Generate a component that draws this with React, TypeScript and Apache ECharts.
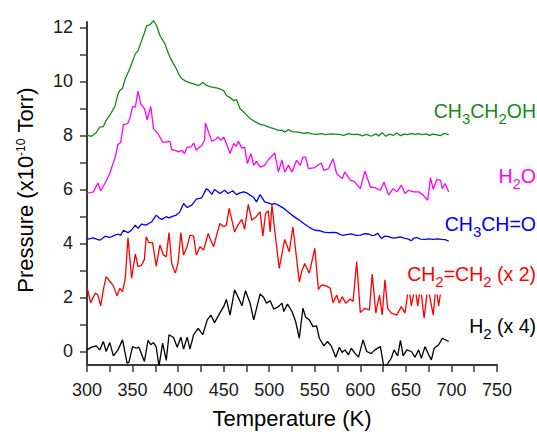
import React, { useEffect, useRef } from "react";
import * as echarts from "echarts";

// Temperature (K) vs pressure (x1e-10 Torr)
const ethanol: [number, number][] = [
  [300, 8.0], [305, 7.97], [310, 8.1], [314, 8.31], [318, 8.33], [321, 8.56], [326, 8.8], [331, 9.11],
  [334, 9.55], [336, 9.66], [339, 9.75], [342, 10.1], [347, 10.47], [350, 10.75], [353, 11.02], [356, 11.14],
  [360, 11.51], [363, 11.8], [365.5, 12.06], [369, 12.1], [373, 12.25], [376.5, 12.06], [380, 11.7],
  [385.6, 11.39], [388, 11.15], [391, 10.9], [395, 10.65], [398, 10.47], [401, 10.25], [404, 10.1],
  [409, 10.0], [413, 9.95], [417, 9.91], [422, 9.85], [425, 9.9], [427, 9.97], [431, 9.85], [436, 9.8],
  [442, 9.76], [446, 9.72], [450, 9.66], [453, 9.48], [457, 9.4], [461, 9.29], [464, 9.33], [468, 8.99],
  [474, 8.8], [479, 8.62], [485, 8.5], [490, 8.41], [495, 8.37], [501, 8.29], [505, 8.25], [510, 8.19],
  [514, 8.2], [517, 8.12], [521, 8.22], [525, 8.14], [532, 8.12], [538, 8.08], [542, 8.1], [547, 8.06],
  [552, 8.04], [557, 8.07], [562, 8.03], [567, 8.06], [572, 8.05], [577, 8.04], [582, 8.0], [587, 8.07],
  [592, 8.03], [597, 8.05], [602, 7.98], [607, 8.04], [612, 7.97], [617, 8.06], [620, 7.98], [624, 8.1],
  [628, 7.97], [632, 8.05], [636, 8.0], [640, 8.09], [644, 7.99], [648, 8.05], [652, 8.03], [656, 8.08],
  [660, 8.04], [664, 8.07], [668, 8.03], [672, 8.06], [676, 8.0], [680, 8.05], [684, 8.02], [688, 7.99],
  [692, 8.08], [697, 8.03],
];

const water: [number, number][] = [
  [300, 5.87], [304, 5.88], [307, 5.91], [312, 6.24], [315, 5.95], [320, 6.25], [325, 6.59], [328, 6.9],
  [331, 7.2], [334, 7.67], [337, 7.74], [340, 8.41], [343, 8.42], [345, 8.46], [347, 8.62], [350, 9.07],
  [353, 9.05], [356, 9.64], [359, 9.17], [363, 8.99], [366, 8.58], [370, 9.07], [373, 8.25], [378, 8.06],
  [383, 7.75], [387, 7.75], [391, 7.79], [393, 7.47], [397, 7.45], [400, 7.39], [404, 7.45], [407, 7.33],
  [410, 7.57], [414, 7.57], [417, 7.72], [420, 7.45], [423, 7.55], [426, 7.63], [429, 7.82], [430, 8.46],
  [434, 8.06], [437, 7.79], [441, 7.85], [444, 7.94], [447, 7.82], [450, 7.94], [453, 7.7], [457, 7.33],
  [461, 7.7], [464, 7.6], [466, 7.79], [470, 7.53], [473, 7.57], [476, 6.96], [480, 7.33], [483, 6.89],
  [486, 7.04], [490, 6.83], [495, 6.89], [499, 7.1], [502, 7.2], [506, 7.35], [510, 6.65], [514, 7.08],
  [517, 6.65], [521, 6.89], [525, 6.65], [530, 7.08], [534, 6.89], [537, 7.2], [540, 7.2], [543, 6.77],
  [550, 6.81], [557, 6.98], [560, 6.71], [565, 6.77], [570, 7.14], [574, 6.59], [580, 6.4], [583, 6.65],
  [589, 6.34], [593, 6.31], [600, 6.03], [605, 6.68], [611, 6.09], [616, 6.07], [622, 5.97], [626, 6.28],
  [631, 5.79], [636, 6.03], [640, 5.91], [645, 6.16], [649, 5.85], [653, 5.97], [658, 5.91], [664, 5.91],
  [669, 5.79], [674, 5.6], [677, 6.44], [680, 6.0], [684, 6.37], [688, 6.34], [690, 6.03], [693, 6.22],
  [697, 5.91],
];

const acetaldehyde: [number, number][] = [
  [300, 4.15], [307, 4.21], [311, 4.15], [314, 4.12], [320, 4.27], [325, 4.22], [330, 4.3], [334, 4.35],
  [337, 4.3], [340, 4.49], [345, 4.4], [349, 4.5], [353, 4.68], [356, 4.56], [360, 4.72], [365, 4.68],
  [368, 4.75], [371, 4.8], [376, 5.05], [379, 4.95], [382, 4.89], [387, 4.99], [390, 4.95], [393, 4.99],
  [398, 5.05], [402, 5.17], [406, 5.48], [410, 5.33], [415, 5.42], [420, 5.64], [426, 5.69], [431, 6.03],
  [434, 5.95], [437, 5.82], [440, 6.0], [443, 5.92], [446, 5.85], [451, 5.97], [455, 5.85], [460, 5.95],
  [464, 5.81], [468, 5.87], [472, 5.91], [476, 5.86], [479, 5.79], [483, 5.7], [486, 5.54], [490, 5.81],
  [493, 5.65], [495, 5.54], [499, 5.5], [503, 5.45], [506, 5.48], [510, 5.42], [516, 5.3], [520, 5.18],
  [525, 5.05], [530, 4.93], [534, 4.84], [538, 4.74], [543, 4.62], [547, 4.54], [550, 4.49], [556, 4.47],
  [560, 4.42], [565, 4.4], [570, 4.41], [574, 4.4], [578, 4.33], [581, 4.3], [586, 4.34], [591, 4.35],
  [595, 4.3], [600, 4.31], [605, 4.36], [609, 4.35], [613, 4.29], [616, 4.31], [619, 4.38], [623, 4.19],
  [627, 4.27], [631, 4.25], [636, 4.2], [640, 4.22], [644, 4.24], [649, 4.19], [652, 4.17], [656, 4.1],
  [659, 4.2], [662, 4.22], [666, 4.16], [671, 4.15], [675, 4.17], [680, 4.15], [685, 4.17], [689, 4.15],
  [693, 4.14], [697, 4.09],
];

const ethylene: [number, number][] = [
  [300, 2.38], [304, 1.81], [309, 2.16], [312, 2.09], [315, 1.69], [318, 2.3], [321, 2.77], [325, 2.6],
  [329, 2.43], [333, 2.06], [336, 2.34], [339, 2.22], [342, 2.71], [345, 4.22], [349, 2.71], [353, 3.61],
  [356, 3.14], [360, 3.2], [363, 3.41], [365, 4.25], [368, 4.03], [372, 4.03], [376, 3.16], [380, 3.94],
  [384, 3.57], [387, 3.51], [390, 4.4], [393, 3.26], [397, 2.9], [400, 3.3], [403, 4.4], [406, 3.57],
  [410, 3.9], [413, 4.31], [417, 4.27], [420, 3.57], [424, 3.88], [428, 3.76], [433, 4.37], [436, 4.1],
  [439, 3.88], [443, 4.4], [446, 4.74], [450, 4.62], [453, 4.68], [456, 5.3], [462, 4.43], [466, 4.7],
  [470, 4.89], [473, 4.52], [477, 5.45], [481, 4.86], [486, 5.0], [490, 5.17], [493, 4.27], [496, 5.11],
  [499, 5.21], [501, 4.43], [503, 5.42], [506, 4.49], [511, 3.08], [517, 4.15], [522, 3.69], [526, 4.62],
  [533, 2.58], [536, 3.0], [539, 3.26], [544, 2.9], [550, 3.82], [554, 2.3], [557, 2.45], [560, 2.46],
  [564, 2.4], [567, 2.34], [570, 1.81], [574, 2.09], [577, 1.79], [580, 2.03], [584, 1.79], [589, 1.94],
  [592, 1.85], [596, 3.32], [600, 1.44], [605, 1.6], [610, 1.54], [613, 2.87], [617, 1.42], [621, 2.09],
  [624, 1.35], [627, 2.65], [630, 1.6], [634, 1.42], [640, 1.35], [645, 1.66], [649, 1.42], [653, 2.4],
  [656, 1.69], [660, 2.4], [663, 1.69], [666, 2.4], [670, 1.23], [674, 2.4], [678, 1.72], [680, 1.35],
  [683, 2.4], [686, 1.69], [689, 2.4], [690, 2.2],
];

const hydrogen: [number, number][] = [
  [300, 0.06], [305, 0.16], [310, 0.21], [314, 0.06], [318, 0.37], [321, 0.0], [325, 0.33], [329, -0.16],
  [334, 0.06], [339, 0.43], [344, -0.43], [346, -0.4], [350, 0.18], [354, 0.12], [357, 0.16], [363, -0.37],
  [367, 0.41], [370, 0.25], [373, 0.33], [376, 0.16], [379, -0.55], [383, 0.31], [387, -0.33], [390, 0.62],
  [395, 0.52], [399, 0.16], [403, 0.53], [406, 0.09], [410, 0.53], [413, 0.09], [417, 0.62], [422, 0.86],
  [427, 0.62], [432, 1.17], [436, 1.35], [440, 1.07], [446, 1.44], [450, 1.66], [453, 1.93], [457, 1.35],
  [462, 2.28], [467, 1.93], [470, 1.69], [474, 2.25], [479, 1.79], [483, 1.17], [490, 2.13], [494, 2.0],
  [497, 1.79], [501, 1.88], [505, 1.57], [510, 1.66], [514, 1.79], [516, 1.48], [520, 1.76], [525, 1.48],
  [529, 1.11], [533, 0.49], [537, 1.6], [540, 1.27], [544, 1.17], [548, 0.92], [552, 0.95], [555, 0.49],
  [560, 0.21], [564, 0.37], [568, 0.21], [573, -0.21], [577, 0.16], [580, -0.04], [583, 0.06], [587, -0.12],
  [590, 0.12], [594, -0.06], [598, -0.21], [603, 0.43], [607, 0.0], [612, -0.08], [616, 0.06], [622, 0.18],
  [626, -0.6], [630, -0.45], [634, -0.25], [637, 0.06], [641, -0.16], [644, 0.41], [647, -0.16], [651, 0.06],
  [656, 0.0], [660, -0.21], [664, 0.06], [667, -0.25], [671, 0.18], [675, -0.12], [678, -0.31], [681, 0.12],
  [686, 0.25], [690, 0.49], [697, 0.37],
];

const xTickLabels = [300, 350, 400, 450, 500, 550, 600, 650, 700, 750];
const xTicks = [300, 325, 350, 375, 400, 425, 450, 475, 500, 525, 550, 575, 600, 625, 650, 675, 700, 725, 750];
const yTickLabels = [0, 2, 4, 6, 8, 10, 12];
const yTicks = [0, 1, 2, 3, 4, 5, 6, 7, 8, 9, 10, 11, 12];

const FONT = "'Liberation Sans', Arial, Helvetica, sans-serif";

const mainRich = { fontSize: 19.5, lineHeight: 20, verticalAlign: "top", fontFamily: FONT };
const subRich = { fontSize: 15, lineHeight: 20, verticalAlign: "top", padding: [10, 0, 0, 0], fontFamily: FONT };

function label(text: string, y: number, color: string) {
  return {
    type: "text",
    x: 536,
    y,
    z: 100,
    style: {
      text,
      fill: color,
      align: "right",
      verticalAlign: "top",
      textAlign: "right",
      textVerticalAlign: "top",
      rich: {
        m: { ...mainRich, color },
        s: { ...subRich, color },
      },
    },
  };
}

export default function App() {
  const ref = useRef<HTMLDivElement>(null);
  useEffect(() => {
    if (!ref.current) return;
    const chart = echarts.init(ref.current, undefined, { renderer: "svg" });
    const line = (name: string, data: [number, number][], color: string, clip: boolean) => ({
      name,
      type: "line",
      data,
      showSymbol: false,
      symbol: "none",
      clip,
      lineStyle: { color, width: 1.3 },
      itemStyle: { color },
      z: 2,
    });
    chart.setOption({
      animation: false,
      backgroundColor: "#ffffff",
      grid: { left: 87, right: 40, top: 22, bottom: 67, outerBoundsMode: "none" },
      xAxis: {
        type: "value",
        min: 300,
        max: 750,
        axisLine: { show: true, onZero: false, lineStyle: { color: "#3a3a3a", width: 2 } },
        axisTick: { show: true, customValues: xTicks, length: 7, lineStyle: { color: "#3a3a3a", width: 1.5 } },
        axisLabel: { customValues: xTickLabels, margin: 16, fontSize: 18, color: "#1a1a1a", fontFamily: FONT },
        splitLine: { show: false },
      },
      yAxis: {
        type: "value",
        min: -0.5,
        max: 12.2,
        axisLine: { show: true, onZero: false, lineStyle: { color: "#3a3a3a", width: 2 } },
        axisTick: { show: true, customValues: yTicks, length: 7, lineStyle: { color: "#3a3a3a", width: 1.5 } },
        axisLabel: { customValues: yTickLabels, margin: 14, fontSize: 18, color: "#1a1a1a", fontFamily: FONT },
        splitLine: { show: false },
      },
      series: [
        line("CH3CH2OH", ethanol, "#168a16", false),
        line("H2O", water, "#ff00ff", false),
        line("CH3CH=O", acetaldehyde, "#0000ff", false),
        line("CH2=CH2 (x 2)", ethylene, "#ff0000", false),
        line("H2 (x 4)", hydrogen, "#000000", true),
      ],
      graphic: [
        { type: "rect", z: 99, shape: { x: 400, y: 262, width: 137, height: 32.5 }, style: { fill: "#ffffff" } },
        label("{m|CH}{s|3}{m|CH}{s|2}{m|OH}", 101.3, "#168a16"),
        label("{m|H}{s|2}{m|O}", 165.5, "#ff00ff"),
        label("{m|CH}{s|3}{m|CH=O}", 213.6, "#0000ff"),
        label("{m|CH}{s|2}{m|=CH}{s|2}{m| (x 2)}", 263.9, "#ff0000"),
        label("{m|H}{s|2}{m| (x 4)}", 315.5, "#000000"),
        {
          type: "text",
          x: 292,
          y: 418.5,
          z: 100,
          style: {
            text: "Temperature (K)",
            fill: "#000000",
            fontSize: 22,
            fontFamily: FONT,
            align: "center",
            verticalAlign: "middle",
            textAlign: "center",
            textVerticalAlign: "middle",
          },
        },
        {
          type: "text",
          x: 25.5,
          y: 190,
          rotation: Math.PI / 2,
          z: 100,
          style: {
            text: "{a|Pressure (x10}{p|-10}{a| Torr)}",
            fill: "#000000",
            align: "center",
            verticalAlign: "middle",
            textAlign: "center",
            textVerticalAlign: "middle",
            rich: {
              a: { fontSize: 22, lineHeight: 22, verticalAlign: "bottom", fontFamily: FONT, color: "#000000" },
              p: { fontSize: 12, lineHeight: 12, verticalAlign: "top", fontFamily: FONT, color: "#000000" },
            },
          },
        },
      ],
    });
    return () => chart.dispose();
  }, []);
  return (
    <div
      ref={ref}
      style={{ position: "fixed", left: 0, top: 0, width: 537, height: 432, background: "#fff" }}
    />
  );
}
